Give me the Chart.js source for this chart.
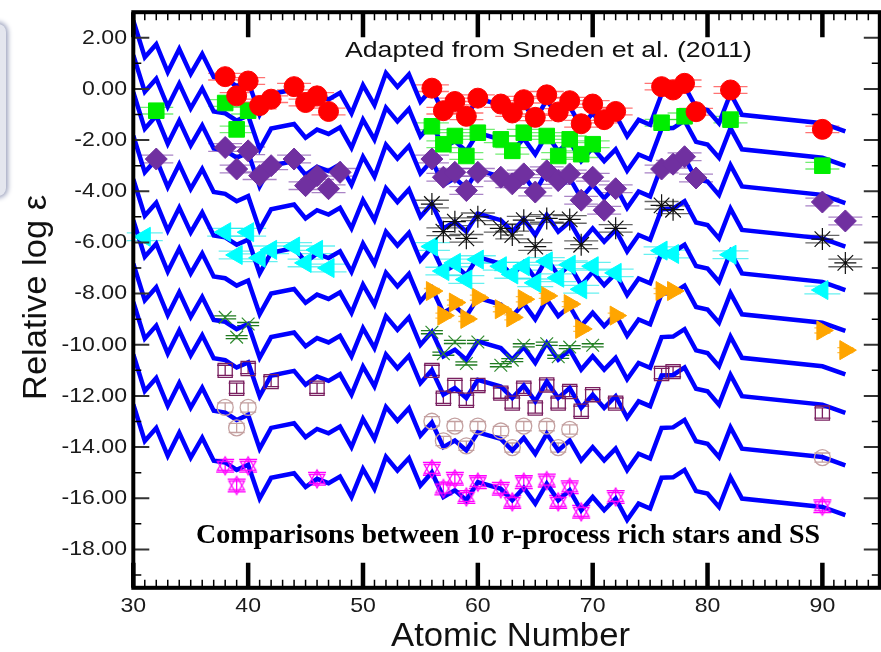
<!DOCTYPE html>
<html>
<head>
<meta charset="utf-8">
<script src="https://cdn.jsdelivr.net/npm/chart.js@4.4.1/dist/chart.umd.min.js"></script>
<style>
  html, body { margin: 0; padding: 0; background: #fff; overflow: hidden; }
  #wrap { position: relative; width: 881px; height: 652px; overflow: hidden; }
  #chart { position: absolute; left: 0; top: 0; }
  #tab { position: absolute; left: -22px; top: 24px; width: 28px; height: 172px; border-radius: 8px;
         background: #e4e6ee; box-shadow: 0 0 5px 2px #9aa0bc; }
</style>
</head>
<body>
<div id="wrap">
  <div id="tab"></div>
  <canvas id="chart" width="892" height="652"></canvas>
</div>
<script>
// Solar system r-process pattern, and the shift of each curve
const ssZ = [30,31,32,33,34,35,36,37,38,39,40,41,42,44,45,46,47,48,49,50,51,52,53,54,55,56,57,58,59,60,
  62,63,64,65,66,67,68,69,70,71,72,73,74,75,76,77,78,79,80,81,82,83,90,92];
const ssLogEps = [-12.33,-13.76,-13.25,-14.34,-13.44,-14.41,-13.63,-14.53,-14.60,-14.89,-14.69,-16.01,-15.20,
  -15.02,-15.56,-15.24,-15.41,-15.15,-15.95,-14.85,-15.63,-14.38,-14.92,-14.43,-15.50,-14.99,-15.95,-15.69,-16.08,-15.37,
  -15.63,-16.08,-15.59,-16.21,-15.43,-16.08,-15.69,-16.47,-15.95,-16.47,-16.01,-16.85,-16.21,-16.40,-15.20,-15.18,-14.89,
  -15.72,-15.82,-16.34,-15.18,-16.01,-16.34,-16.66];
const ssShift = [15.0, 13.65, 12.2, 10.5, 8.8, 7.2, 5.5, 4.0, 1.95, 0];

// Ten r-process rich stars (atomic number, relative log eps)
const star1Z = [38,39,40,41,42,44,45,46,47,56,57,58,59,60,62,63,64,65,66,67,68,69,70,71,72,76,77,78,79,82,90];
const star1Eps = [0.48,-0.27,0.31,-0.65,-0.40,0.09,-0.53,-0.27,-0.88,0.03,-0.85,-0.49,-1.07,-0.36,-0.59,-0.94,-0.42,
  -1.11,-0.23,-0.90,-0.46,-1.36,-0.59,-1.20,-0.88,0.09,-0.04,0.22,-0.89,-0.04,-1.58];

const star2Z = [32,38,39,40,56,57,58,59,60,62,63,64,66,67,68,69,70,76,78,82,90];
const star2Eps = [-0.85,-0.55,-1.58,-0.85,-1.46,-2.16,-1.84,-2.62,-1.71,-1.97,-2.42,-1.71,-1.84,-2.62,-1.97,-2.55,
  -2.16,-1.32,-1.07,-1.20,-3.00];

const star3Z = [32,38,39,40,41,42,44,45,46,47,48,56,57,58,59,60,62,63,64,65,66,67,68,69,70,71,72,76,77,78,79,90,92];
const star3Eps = [-2.74,-2.29,-3.13,-2.42,-3.39,-3.00,-2.74,-3.78,-3.39,-3.90,-3.26,-2.74,-3.45,-3.26,-3.97,-3.26,
  -3.45,-3.71,-3.32,-4.03,-3.20,-3.58,-3.32,-4.35,-3.45,-4.74,-3.90,-3.13,-2.94,-2.65,-3.48,-4.42,-5.16];

const star4Z = [56,57,58,59,60,62,63,64,65,66,68,69,72,76,77,90,92];
const star4Eps = [-4.50,-5.58,-5.19,-5.84,-5.00,-5.45,-5.71,-5.13,-6.16,-5.06,-5.10,-6.09,-5.45,-4.55,-4.72,-5.87,-6.80];

const star5Z = [31,38,39,40,41,42,44,45,46,47,56,57,58,59,60,62,63,64,65,66,67,68,69,70,72,76,77,82,90];
const star5Eps = [-5.78,-5.60,-6.49,-5.60,-6.60,-6.29,-6.16,-6.80,-6.29,-7.00,-6.16,-7.12,-6.80,-7.45,-6.67,-6.93,
  -7.25,-6.93,-7.58,-6.74,-7.38,-6.87,-7.83,-6.93,-7.19,-6.32,-6.45,-6.48,-7.86];

const star6Z = [56,57,58,59,60,62,63,64,66,68,69,72,76,77,90,92];
const star6Eps = [-7.90,-8.86,-8.35,-8.99,-8.16,-8.61,-8.93,-8.22,-8.09,-8.41,-9.38,-8.86,-7.90,-7.90,-9.44,-10.21];

const star7Z = [38,39,40,56,57,58,59,60,62,63,64,66,67,68,70];
const star7Eps = [-8.93,-9.70,-9.19,-9.51,-10.35,-9.89,-10.73,-9.89,-10.80,-10.60,-10.02,-9.96,-10.47,-10.09,-10.02];

const star8Z = [38,39,40,42,46,56,57,58,59,60,62,63,64,65,66,67,68,69,70,72,76,77,90];
const star8Eps = [-11.00,-11.70,-10.93,-11.44,-11.70,-11.00,-12.09,-11.59,-12.17,-11.59,-11.89,-12.28,-11.70,-12.47,
  -11.57,-12.28,-11.83,-12.60,-11.95,-12.28,-11.12,-11.05,-12.67];

const star9Z = [38,39,40,56,57,58,59,60,62,63,64,66,67,68,90];
const star9Eps = [-12.45,-13.25,-12.45,-12.99,-13.76,-13.18,-13.95,-13.18,-13.37,-14.02,-13.18,-13.18,-14.02,-13.31,-14.41];

const star10Z = [38,39,40,46,56,57,58,59,60,62,63,64,66,67,68,69,72,90];
const star10Eps = [-14.73,-15.50,-14.73,-15.24,-14.85,-15.62,-15.24,-15.95,-15.37,-15.63,-16.14,-15.37,-15.31,-16.14,
  -15.57,-16.53,-15.95,-16.31];

// Tick labels
const xTickLabels = [30, 40, 50, 60, 70, 80, 90];
const yTickLabels = [2, 0, -2, -4, -6, -8, -10, -12, -14, -16, -18];

const FONT = '"Liberation Sans", Arial, sans-serif';

// open "star of David" marker for the last star
function hexagram(color, r) {
  const c = document.createElement("canvas");
  const s = Math.ceil(2 * r + 4);
  c.width = s;
  c.height = s;
  const g = c.getContext("2d");
  g.strokeStyle = color;
  g.lineWidth = 1.3;
  [-Math.PI / 2, Math.PI / 2].forEach((a0) => {
    g.beginPath();
    for (let k = 0; k < 3; k++) {
      const a = a0 + (k * 2 * Math.PI) / 3;
      const px = s / 2 + r * Math.cos(a);
      const py = s / 2 + r * Math.sin(a);
      if (k) g.lineTo(px, py);
      else g.moveTo(px, py);
    }
    g.closePath();
    g.stroke();
  });
  return c;
}

function pts(zs, vs) {
  return zs.map((z, i) => ({ x: z, y: vs[i] }));
}

// marker style, error size (dex) and error cap half width (px) for each star
const stars = [
  { z: star1Z, v: star1Eps, style: "circle", r: 10, fill: "#ff0000", line: "#ff0000", err: 0.13, cap: 17, capColor: "rgba(255,0,0,0.55)" },
  { z: star2Z, v: star2Eps, style: "rect", r: 11, fill: "#00ee00", line: "#00ee00", err: 0.13, cap: 17, capColor: "rgba(0,220,0,0.55)" },
  { z: star3Z, v: star3Eps, style: "rectRot", r: 11, fill: "#7030a0", line: "#7030a0", err: 0.15, cap: 17, capColor: "rgba(112,48,160,0.6)" },
  { z: star4Z, v: star4Eps, style: "star", r: 11, fill: "rgba(0,0,0,0)", line: "#111111", err: 0.15, cap: 17, capColor: "rgba(0,0,0,0.6)", bw: 1.2 },
  { z: star5Z, v: star5Eps, style: "triangle", rot: -90, r: 11, fill: "#00ffff", line: "#00ffff", err: 0.15, cap: 18, capColor: "rgba(0,230,230,0.6)" },
  { z: star6Z, v: star6Eps, style: "triangle", rot: 90, r: 11, fill: "#ffa500", line: "#ffa500", err: 0.1, cap: 8, capColor: "rgba(255,165,0,0.7)" },
  { z: star7Z, v: star7Eps, style: "crossRot", r: 9, fill: "rgba(0,0,0,0)", line: "#2f8a2f", err: 0.06, cap: 11, capColor: "#1f7a1f", bw: 1.2 },
  { z: star8Z, v: star8Eps, style: "rect", r: 10, fill: "rgba(0,0,0,0)", line: "#7a2060", err: 0.2, cap: 8, capColor: "#7a2060", bw: 1.3 },
  { z: star9Z, v: star9Eps, style: "circle", r: 8, fill: "rgba(0,0,0,0)", line: "#c4a0a0", err: 0.18, cap: 8, capColor: "#c4a0a0", bw: 1.3 },
  { z: star10Z, v: star10Eps, style: hexagram("#ff00ff", 9), r: 9, fill: "rgba(0,0,0,0)", line: "#ff00ff", err: 0.25, cap: 9, capColor: "#ff00ff", bw: 1.2 },
];

const datasets = [];
stars.forEach((s, i) => {
  datasets.push({
    label: "star" + (i + 1),
    data: pts(s.z, s.v),
    showLine: false,
    pointStyle: s.style,
    pointRotation: s.rot || 0,
    pointRadius: s.r,
    pointBackgroundColor: s.fill,
    pointBorderColor: s.line,
    pointBorderWidth: s.bw || 1,
    order: i + 1,
    errInfo: s,
  });
});
ssShift.forEach((d, i) => {
  datasets.push({
    label: "SS" + (i + 1),
    data: pts(ssZ, ssLogEps.map((v) => v + d)),
    showLine: true,
    borderColor: "#0000ff",
    borderWidth: 4.5,
    pointRadius: 0,
    tension: 0,
    order: 20,
  });
});

function stretchText(ctx, txt, x, y, sx, align) {
  ctx.save();
  ctx.translate(x, y);
  ctx.scale(sx, 1);
  ctx.textAlign = align;
  ctx.fillText(txt, 0, 0);
  ctx.restore();
}

function fitText(ctx, txt, left, right, y) {
  const w = ctx.measureText(txt).width;
  ctx.save();
  ctx.translate(left, y);
  ctx.scale((right - left) / w, 1);
  ctx.textAlign = "left";
  ctx.fillText(txt, 0, 0);
  ctx.restore();
}

const decor = {
  id: "decor",
  beforeDatasetsDraw(chart) {
    const ctx = chart.ctx;
    const xs = chart.scales.x;
    const ys = chart.scales.y;
    ctx.save();
    chart.data.datasets.forEach((ds) => {
      const e = ds.errInfo;
      if (!e) return;
      ctx.strokeStyle = e.capColor;
      ctx.lineWidth = 1.3;
      ds.data.forEach((p) => {
        const px = xs.getPixelForValue(p.x);
        const top = ys.getPixelForValue(p.y + e.err);
        const bot = ys.getPixelForValue(p.y - e.err);
        ctx.beginPath();
        ctx.moveTo(px, top);
        ctx.lineTo(px, bot);
        ctx.moveTo(px - e.cap, top);
        ctx.lineTo(px + e.cap, top);
        ctx.moveTo(px - e.cap, bot);
        ctx.lineTo(px + e.cap, bot);
        ctx.stroke();
      });
    });
    ctx.restore();
  },
  afterDraw(chart) {
    const ctx = chart.ctx;
    const a = chart.chartArea;
    const xs = chart.scales.x;
    const ys = chart.scales.y;
    ctx.save();
    ctx.strokeStyle = "#000";
    ctx.lineCap = "butt";
    // x ticks, top and bottom, pointing in
    for (let z = 30; z <= 95; z++) {
      const px = xs.getPixelForValue(z);
      const major = z % 10 === 0;
      ctx.lineWidth = major ? 4.5 : 1.5;
      const len = major ? 25 : 8;
      ctx.beginPath();
      ctx.moveTo(px, a.bottom);
      ctx.lineTo(px, a.bottom - len);
      ctx.moveTo(px, a.top);
      ctx.lineTo(px, a.top + len);
      ctx.stroke();
    }
    // y ticks, left and right
    for (let v = -19; v <= 3; v++) {
      const py = ys.getPixelForValue(v);
      const major = v % 2 === 0;
      ctx.lineWidth = major ? 2 : 1.5;
      ctx.strokeStyle = major ? "#333" : "#000";
      const len = major ? 16 : 8;
      ctx.beginPath();
      ctx.moveTo(a.left, py);
      ctx.lineTo(a.left + len, py);
      ctx.moveTo(a.right, py);
      ctx.lineTo(a.right - len, py);
      ctx.stroke();
    }
    // frame
    ctx.strokeStyle = "#000";
    ctx.lineWidth = 4;
    ctx.strokeRect(a.left, a.top, a.right - a.left, a.bottom - a.top);

    // tick labels
    ctx.fillStyle = "#1a1a1a";
    ctx.font = "21px " + FONT;
    ctx.textBaseline = "middle";
    xTickLabels.forEach((z) => {
      stretchText(ctx, String(z), xs.getPixelForValue(z), 606, 1.1, "center");
    });
    yTickLabels.forEach((v) => {
      stretchText(ctx, v.toFixed(2), 127, ys.getPixelForValue(v), 1.1, "right");
    });

    // axis titles
    ctx.textBaseline = "alphabetic";
    ctx.fillStyle = "#111";
    ctx.font = "34px " + FONT;
    fitText(ctx, "Atomic Number", 391, 630, 646);
    ctx.save();
    ctx.translate(46, 400);
    ctx.rotate(-Math.PI / 2);
    fitText(ctx, "Relative log \u03b5", 0, 205, 0);
    ctx.restore();

    // annotations
    ctx.font = "22px " + FONT;
    fitText(ctx, "Adapted from Sneden et al. (2011)", 345, 752, 57);
    ctx.fillStyle = "#000";
    ctx.font = 'bold 27px "Liberation Serif", "Times New Roman", serif';
    fitText(ctx, "Comparisons between 10 r-process rich stars and SS", 196, 820, 543);
    ctx.restore();
  },
};

new Chart(document.getElementById("chart"), {
  type: "scatter",
  data: { datasets: datasets },
  options: {
    responsive: false,
    animation: false,
    layout: { padding: { left: 133.3, right: 6.5, top: 6.5, bottom: 64.2 } },
    scales: {
      x: { type: "linear", min: 30, max: 95, display: false },
      y: { type: "linear", min: -19.5, max: 3, display: false },
    },
    plugins: { legend: { display: false }, tooltip: { enabled: false } },
  },
  plugins: [decor],
});
</script>
</body>
</html>
